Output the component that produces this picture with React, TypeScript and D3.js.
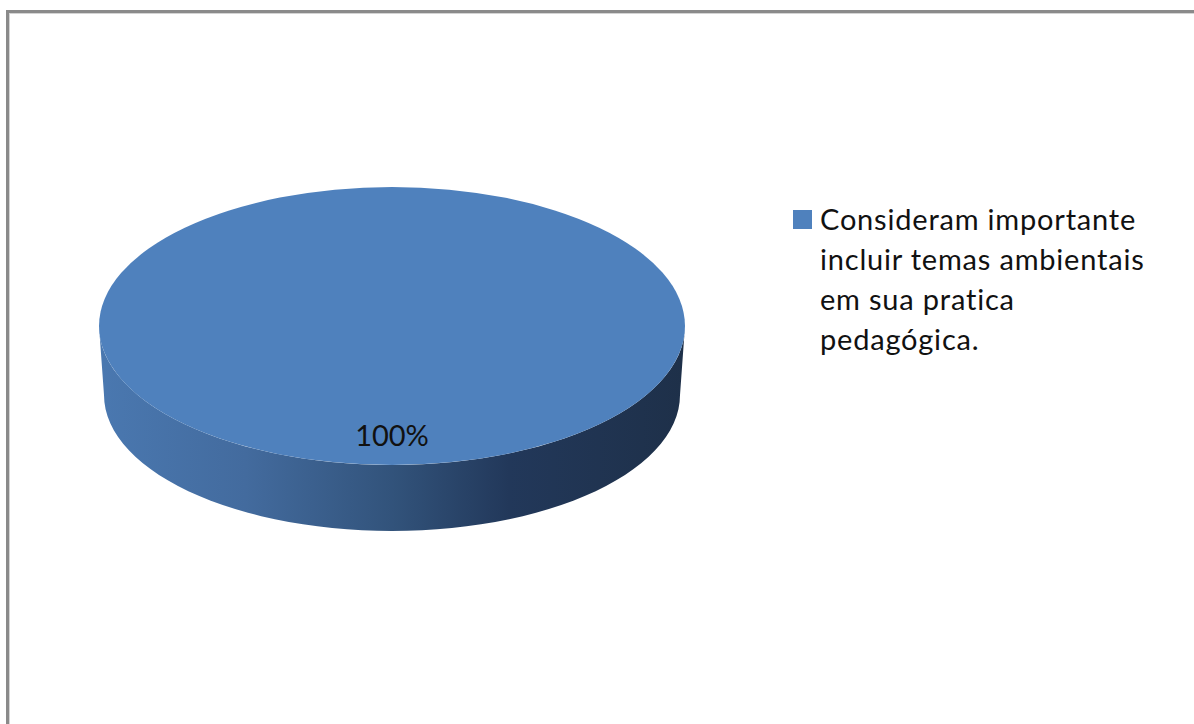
import * as d3 from "d3";
import { useMemo } from "react";

const width = 1194;
const height = 724;

// the chart's data
const categories = ["Consideram importante incluir temas ambientais em sua pratica pedagógica."];
const values = [100];
const legendLines = ["Consideram importante", "incluir temas ambientais", "em sua pratica", "pedagógica."];
const colors = ["#4f81bd"];

// pie geometry
const cx = 392;
const cy = 326;
const rx = 293;
const ry = 139;
const depth = 66;
const rxBottom = 288;
const ryBottom = 136;

const font = "Lato, 'Open Sans', sans-serif";

const App = () => {
  const slices = useMemo(
    () =>
      d3
        .pie<number>()
        .sort(null)
        .startAngle(Math.PI / 2)
        .endAngle(Math.PI / 2 + 2 * Math.PI)(values),
    []
  );

  const total = d3.sum(values);
  const pct = d3.format(".0%");

  const topArc = d3.arc<d3.PieArcDatum<number>>().innerRadius(0).outerRadius(1);

  // front wall: sample the visible half of the slice
  const side = (s: d3.PieArcDatum<number>) => {
    // d3 angle: 0 at 12 o'clock, clockwise. x = sin(a), y = -cos(a)
    const a0 = Math.max(s.startAngle, Math.PI / 2);
    const a1 = Math.min(s.endAngle, (3 * Math.PI) / 2);
    if (a1 <= a0) return null;
    const ts = d3.range(0, 61).map((i) => a0 + ((a1 - a0) * i) / 60);
    const top = ts.map((a) => [cx + rx * Math.sin(a), cy - ry * Math.cos(a)] as [number, number]);
    const bottom = ts
      .map((a) => [cx + rxBottom * Math.sin(a), cy + depth - (ryBottom - ry) - ryBottom * Math.cos(a)] as [number, number])
      .reverse();
    return d3.line()([...top, ...bottom]) + "Z";
  };

  return (
    <svg
      width={width}
      height={height}
      viewBox={`0 0 ${width} ${height}`}
      style={{ position: "absolute", left: 0, top: 0, background: "#fff" }}
    >
      <defs>
        <linearGradient id="sideGrad" gradientUnits="userSpaceOnUse" x1={cx - rx} x2={cx + rx} y1={0} y2={0}>
          <stop offset="0" stopColor="#4a78b0" />
          <stop offset="0.25" stopColor="#436b9e" />
          <stop offset="0.5" stopColor="#32537b" />
          <stop offset="0.7" stopColor="#22385a" />
          <stop offset="1" stopColor="#1e3049" />
        </linearGradient>
      </defs>

      {/* frame */}
      <rect x={7.5} y={11.5} width={width + 20} height={height + 20} fill="none" stroke="#8a8a8a" strokeWidth={3} />
      <rect x={9.5} y={13.5} width={width + 20} height={height + 20} fill="none" stroke="#d4d4d4" strokeWidth={1} />

      {slices.map((s, i) => (
        <g key={i}>
          <path d={side(s) ?? ""} fill="url(#sideGrad)" />
          <path
            d={topArc(s) as string}
            transform={`translate(${cx},${cy}) scale(${rx},${ry})`}
            fill={colors[i]}
          />
          <text x={cx} y={446} textAnchor="middle" fontFamily={font} fontSize={29} fill="#111">
            {pct(s.data / total)}
          </text>
        </g>
      ))}

      {/* legend */}
      <g>
        <rect x={793} y={210} width={19} height={19} fill={colors[0]} />
        <text fontFamily={font} fontSize={29} letterSpacing={0.8} fill="#111">
          <title>{categories[0]}</title>
          {legendLines.map((l, i) => (
            <tspan key={i} x={820} y={230 + i * 40}>
              {l}
            </tspan>
          ))}
        </text>
      </g>
    </svg>
  );
};

export default App;
